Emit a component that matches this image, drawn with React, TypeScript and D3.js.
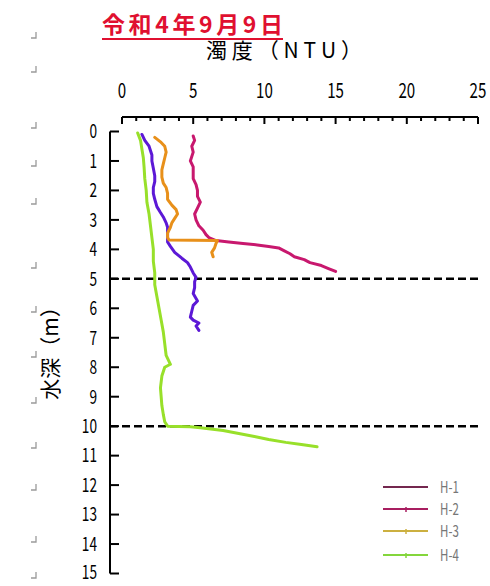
import React from "react";
import * as d3 from "d3";

// Turbidity profiles (depth in m, turbidity in NTU)
const h1Depth = [0.15, 0.3, 0.5, 0.7, 1.0, 1.2, 1.4, 1.6, 1.8, 2.0, 2.2, 2.4, 2.6, 2.8, 3.0, 3.2, 3.35, 3.5, 3.6, 3.7, 3.75, 3.8, 3.85, 3.9, 3.95, 4.05, 4.15, 4.25, 4.35, 4.45, 4.55, 4.65, 4.75];
const h1Ntu = [5.0, 5.1, 4.9, 5.0, 4.8, 5.0, 5.0, 5.0, 5.2, 5.3, 5.3, 5.5, 5.3, 5.1, 5.2, 5.4, 5.7, 5.9, 6.1, 6.6, 7.5, 8.5, 9.5, 10.3, 11.0, 11.4, 11.8, 12.1, 12.8, 13.2, 14.0, 14.5, 15.0];

const h2Depth = [0.1, 0.3, 0.5, 0.8, 1.0, 1.25, 1.5, 1.7, 1.9, 2.1, 2.3, 2.55, 2.75, 2.9, 3.1, 3.25, 3.5, 3.75, 3.9, 4.1, 4.3, 4.45, 4.6, 4.8, 4.95, 5.1, 5.3, 5.5, 5.75, 5.9, 6.1, 6.3, 6.4, 6.5, 6.6, 6.75];
const h2Ntu = [1.4, 1.6, 1.9, 2.1, 2.1, 2.2, 2.3, 2.3, 2.2, 2.2, 2.3, 2.45, 2.7, 2.9, 3.1, 3.2, 3.2, 3.2, 3.4, 3.7, 4.2, 4.6, 4.8, 5.0, 5.2, 5.1, 5.1, 5.0, 5.3, 5.0, 4.9, 4.8, 5.0, 5.4, 5.2, 5.4];

const h3Depth = [0.2, 0.35, 0.5, 0.7, 0.9, 1.1, 1.3, 1.55, 1.75, 1.9, 2.1, 2.3, 2.5, 2.65, 2.8, 2.95, 3.1, 3.25, 3.45, 3.6, 3.68, 3.69, 3.7, 3.8, 3.95, 4.1, 4.25];
const h3Ntu = [2.3, 2.7, 3.0, 3.1, 3.0, 2.9, 2.8, 2.8, 2.9, 3.1, 3.2, 3.2, 3.5, 3.8, 3.9, 3.7, 3.5, 3.4, 3.2, 3.2, 3.3, 5.0, 6.7, 6.6, 6.5, 6.3, 6.4];

const h4Depth = [0.05, 0.3, 0.6, 0.9, 1.2, 1.6, 2.0, 2.4, 2.8, 3.2, 3.6, 4.0, 4.4, 4.8, 5.2, 5.6, 6.0, 6.4, 6.8, 7.2, 7.6, 7.9, 8.0, 8.3, 8.7, 9.0, 9.3, 9.6, 9.85, 10.0, 10.02, 10.05, 10.15, 10.25, 10.35, 10.45, 10.55, 10.62, 10.7];
const h4Ntu = [1.1, 1.3, 1.4, 1.5, 1.55, 1.6, 1.7, 1.75, 1.9, 2.0, 2.1, 2.2, 2.2, 2.3, 2.3, 2.45, 2.6, 2.75, 2.9, 3.0, 3.1, 3.4, 3.0, 2.8, 2.7, 2.75, 2.8, 2.9, 3.0, 3.2, 4.8, 5.5, 7.1, 8.2, 9.3, 10.3, 11.5, 12.6, 13.7];

const seriesNames = ["H-1", "H-2", "H-3", "H-4"];
const seriesColors = ["#c8186e", "#5c18d6", "#e8901a", "#98e02a"];
const legendColors = ["#74284f", "#a81e60", "#ccb040", "#84d63c"];

const xTicks = [0, 5, 10, 15, 20, 25];
const yTicks = d3.range(0, 16);
const guideDepths = [5, 10];

const titleText = "令和4年9月9日";
const xTitle = "濁度（NTU）";
const yTitle = "水深（m）";

const FONT = "'Noto Sans CJK JP', 'Noto Sans', sans-serif";

const paraMarkY = [38, 72, 128, 166, 204, 268, 312, 357, 403, 448, 490, 542, 578];

function Narrow({ x, y, anchor = "middle", size = 20, fill = "#000", children }: any) {
  return (
    <g transform={`translate(${x},${y}) scale(0.72,1)`}>
      <text textAnchor={anchor} fontSize={size} fill={fill} fontFamily={FONT} y={size * 0.36}>
        {children}
      </text>
    </g>
  );
}

export default function App() {
  const x = d3.scaleLinear().domain([0, 25]).range([122, 478]);
  const y = d3.scaleLinear().domain([0, 15]).range([131.5, 573.5]);

  const series = [
    { d: h1Depth, v: h1Ntu },
    { d: h2Depth, v: h2Ntu },
    { d: h3Depth, v: h3Ntu },
    { d: h4Depth, v: h4Ntu },
  ];
  const line = d3
    .line<[number, number]>()
    .x((p) => x(p[1]))
    .y((p) => y(p[0]));

  const minorX = d3.range(0, 26);
  const axisY = 117;
  const axisX = 110;

  return (
    <svg width={490} height={586} style={{ position: "absolute", left: 0, top: 0, background: "#fff" }}>
      <rect width={490} height={586} fill="#fff" />

      {/* paragraph marks down the left margin */}
      {paraMarkY.map((py, i) => (
        <path key={i} d={`M${36},${py - 6}V${py}H${31}`} stroke="#9a9a9a" strokeWidth={1.3} fill="none" />
      ))}

      {/* title */}
      <text x={102} y={33} fontSize={23} fontWeight="bold" fill="#e01030" fontFamily={FONT} textLength={181} lengthAdjust="spacing">
        {titleText}
      </text>
      <line x1={102} x2={283} y1={39} y2={39} stroke="#e01030" strokeWidth={2} />

      {/* x axis title */}
      <text x={206} y={58} fontSize={21} fill="#000" fontFamily={FONT} textLength={156} lengthAdjust="spacing">
        {xTitle}
      </text>

      {/* x axis (top) */}
      <line x1={x(0)} x2={x(25)} y1={axisY} y2={axisY} stroke="#000" strokeWidth={2} />
      {minorX.map((t) => {
        const major = t % 5 === 0;
        return (
          <line key={t} x1={x(t)} x2={x(t)} y1={axisY} y2={axisY + (major ? 7 : 4)} stroke="#000" strokeWidth={2} />
        );
      })}
      {xTicks.map((t) => (
        <Narrow key={t} x={x(t)} y={90} size={21}>
          {t}
        </Narrow>
      ))}

      {/* y axis (left) */}
      <line x1={axisX} x2={axisX} y1={y(0)} y2={y(15)} stroke="#000" strokeWidth={2} />
      {yTicks.map((t) => (
        <line key={t} x1={axisX} x2={axisX + 9} y1={y(t)} y2={y(t)} stroke="#000" strokeWidth={2} />
      ))}
      {yTicks.map((t) => (
        <Narrow key={t} x={97} y={Math.min(y(t), 572)} size={19} anchor="end">
          {t}
        </Narrow>
      ))}
      <text
        transform={`translate(58,348) rotate(-90)`}
        textAnchor="middle"
        fontSize={21}
        fill="#000"
        fontFamily={FONT}
      >
        {yTitle}
      </text>

      {/* dashed guide lines */}
      {guideDepths.map((g) => (
        <line key={g} x1={axisX} x2={x(25)} y1={y(g)} y2={y(g)} stroke="#000" strokeWidth={2.5} strokeDasharray="8,4" />
      ))}

      {/* profiles */}
      {series.map((s, i) => (
        <path
          key={i}
          d={line(s.d.map((dv, j) => [dv, s.v[j]] as [number, number])) || ""}
          fill="none"
          stroke={seriesColors[i]}
          strokeWidth={3}
          strokeLinejoin="round"
          strokeLinecap="round"
        />
      ))}

      {/* legend */}
      {seriesNames.map((n, i) => {
        const ly = [487, 509, 531, 555][i];
        return (
          <g key={n}>
            <line x1={383} x2={428} y1={ly} y2={ly} stroke={legendColors[i]} strokeWidth={2} />
            {i > 0 && <line x1={406} x2={406} y1={ly - 2} y2={ly + 3} stroke={legendColors[i]} strokeWidth={1.5} />}
            <Narrow x={440} y={ly} size={16} anchor="start" fill="#777">
              {n}
            </Narrow>
          </g>
        );
      })}
    </svg>
  );
}
